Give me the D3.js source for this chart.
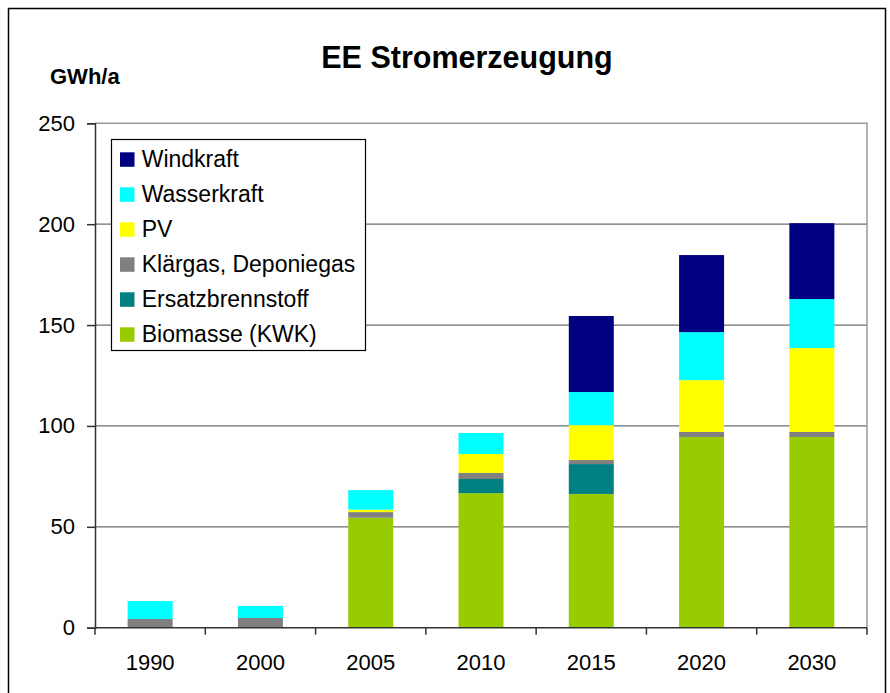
<!DOCTYPE html>
<html>
<head>
<meta charset="utf-8">
<script src="https://cdn.jsdelivr.net/npm/d3@7"></script>
<style>
  body { margin: 0; background: #fff; }
  svg { display: block; font-family: "Liberation Sans", Arial, sans-serif; }
</style>
</head>
<body>
<svg id="chart" width="890" height="693"></svg>
<script>
// chart data (GWh/a)
const years = ["1990", "2000", "2005", "2010", "2015", "2020", "2030"];
const biomasse = [0, 0, 54.5, 66.7, 66.3, 94.5, 94.5];
const ersatz = [0, 0, 0, 7.0, 14.8, 0, 0];
const klaergas = [4.3, 4.8, 2.8, 3.0, 2.0, 2.5, 2.5];
const pv = [0, 0, 1.2, 9.4, 17.3, 25.7, 41.6];
const wasser = [8.9, 6.0, 9.7, 10.4, 16.4, 23.8, 24.3];
const wind = [0, 0, 0, 0, 37.7, 38.2, 37.6];
const yTicks = [0, 50, 100, 150, 200, 250];

// stacked bottom to top
const series = [
  { name: "Biomasse (KWK)", values: biomasse, color: "#99cc00" },
  { name: "Ersatzbrennstoff", values: ersatz, color: "#008080" },
  { name: "Klärgas, Deponiegas", values: klaergas, color: "#808080" },
  { name: "PV", values: pv, color: "#ffff00" },
  { name: "Wasserkraft", values: wasser, color: "#00ffff" },
  { name: "Windkraft", values: wind, color: "#000080" }
];

const svg = d3.select("#chart");

const plotLeft = 95, plotRight = 867, plotTop = 123.3, plotBottom = 627.7;

// outer frame
svg.append("rect")
  .attr("x", 8.5).attr("y", 8.5)
  .attr("width", 877).attr("height", 700)
  .attr("fill", "none").attr("stroke", "#000").attr("stroke-width", 1.5);

const x = d3.scaleBand()
  .domain(years)
  .range([plotLeft, plotRight])
  .paddingInner(0.592)
  .paddingOuter(0.296);

const y = d3.scaleLinear()
  .domain([0, 250])
  .range([plotBottom, plotTop]);

// gridlines
svg.append("g")
  .selectAll("line")
  .data(yTicks.filter(d => d > 0 && d < 250))
  .enter()
  .append("line")
  .attr("x1", plotLeft).attr("x2", plotRight)
  .attr("y1", d => y(d)).attr("y2", d => y(d))
  .attr("stroke", "#6e6e6e")
  .attr("stroke-width", 1.3);

// plot frame top / right
svg.append("path")
  .attr("d", `M${plotLeft},${y(250)}H${plotRight}V${plotBottom}`)
  .attr("fill", "none")
  .attr("stroke", "#999")
  .attr("stroke-width", 1.5);

// bars
const stack = d3.stack()
  .keys(d3.range(series.length))
  .value((d, k) => series[k].values[d]);
const layers = stack(d3.range(years.length));

svg.append("g")
  .selectAll("g")
  .data(layers)
  .enter()
  .append("g")
  .attr("fill", (d, i) => series[i].color)
  .selectAll("rect")
  .data(d => d.filter(s => s[1] > s[0]))
  .enter()
  .append("rect")
  .attr("x", d => x(years[d.data]))
  .attr("width", x.bandwidth())
  .attr("y", d => y(d[1]))
  .attr("height", d => y(d[0]) - y(d[1]));

// y axis
const yAxis = svg.append("g")
  .attr("transform", `translate(${plotLeft},0)`)
  .call(d3.axisLeft(y).tickValues(yTicks).tickSize(8).tickPadding(12).tickFormat(d3.format("d")));
yAxis.select(".domain").attr("stroke", "#333").attr("stroke-width", 1.5);
yAxis.selectAll(".tick line").attr("stroke", "#333").attr("stroke-width", 1.5);
yAxis.selectAll(".tick text")
  .attr("font-size", 22)
  .attr("font-family", "Liberation Sans, Arial, sans-serif")
  .attr("fill", "#000");

// x axis: ticks at category boundaries
const halfGap = x.step() * x.paddingInner() / 2;
const xAxis = svg.append("g")
  .attr("transform", `translate(0,${plotBottom})`);
xAxis.append("line")
  .attr("x1", plotLeft).attr("x2", plotRight)
  .attr("stroke", "#333").attr("stroke-width", 1.5);
xAxis.selectAll("line.tk")
  .data(years.concat(["end"]))
  .enter()
  .append("line")
  .attr("class", "tk")
  .attr("x1", (d, i) => i < years.length ? x(d) - halfGap : plotRight)
  .attr("x2", (d, i) => i < years.length ? x(d) - halfGap : plotRight)
  .attr("y1", 0).attr("y2", 7)
  .attr("stroke", "#333").attr("stroke-width", 1.5);
xAxis.selectAll("text")
  .data(years)
  .enter()
  .append("text")
  .attr("x", d => x(d) + x.bandwidth() / 2)
  .attr("y", 42)
  .attr("text-anchor", "middle")
  .attr("font-size", 22)
  .text(d => d);

// titles
svg.append("text")
  .attr("x", 467).attr("y", 68)
  .attr("text-anchor", "middle")
  .attr("font-size", 30.5)
  .attr("font-weight", "bold")
  .text("EE Stromerzeugung");

svg.append("text")
  .attr("x", 50).attr("y", 84)
  .attr("font-size", 22)
  .attr("font-weight", "bold")
  .text("GWh/a");

// legend (top entry = top of stack)
const legendItems = series.slice().reverse();
const legend = svg.append("g").attr("transform", "translate(111,139)");
legend.append("rect")
  .attr("x", 0.5).attr("y", 0.5)
  .attr("width", 254).attr("height", 211)
  .attr("fill", "#fff").attr("stroke", "#000").attr("stroke-width", 1.2);
const rows = legend.selectAll("g.row")
  .data(legendItems)
  .enter()
  .append("g")
  .attr("class", "row")
  .attr("transform", (d, i) => `translate(0,${20.3 + i * 35})`);
rows.append("rect")
  .attr("x", 9).attr("y", -7)
  .attr("width", 14.5).attr("height", 14.5)
  .attr("fill", d => d.color);
rows.append("text")
  .attr("x", 30.7)
  .attr("dy", "0.35em")
  .attr("font-size", 23)
  .text(d => d.name);
</script>
</body>
</html>
